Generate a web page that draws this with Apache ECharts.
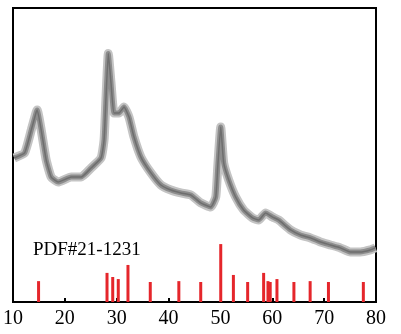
<!DOCTYPE html>
<html><head><meta charset="utf-8">
<script src="https://cdn.jsdelivr.net/npm/echarts@6/dist/echarts.min.js"></script>
<style>html,body{margin:0;padding:0;background:#fff}#c{width:401px;height:334px}</style>
</head><body><div id="c"></div>
<script>
var patternX = [10.25,12.23,13.52,14.48,14.67,15.44,16.40,17.37,18.71,21.21,23.13,25.06,26.98,27.56,27.94,28.38,28.90,29.48,30.44,31.40,32.37,33.33,34.67,36.60,38.52,40.44,42.37,44.29,46.21,48.13,49.10,49.48,50.06,50.63,51.60,52.94,54.48,56.21,57.37,58.71,60.06,61.21,63.52,65.44,67.37,69.29,71.21,73.13,75.06,76.98,78.90,79.90];
var patternY = [49.0,50.7,58.5,64.6,65.3,58.5,48.3,42.5,40.8,42.5,42.5,45.6,49.0,55.1,69.7,84.5,74.5,64.3,64.3,66.3,62.9,56.1,49.3,43.9,39.8,38.1,37.1,36.4,33.7,32.3,35.7,45.9,59.5,47.3,41.5,35.7,31.3,28.6,27.9,30.3,28.9,27.9,24.5,22.8,21.8,20.4,19.4,18.4,17.0,17.0,17.7,18.4];
var refPos = [14.93,28.13,29.23,30.30,32.17,36.47,41.98,46.20,50.06,52.50,55.25,58.33,59.17,59.60,60.90,64.17,67.30,70.83,77.56];
var refInt = [7.1,9.9,8.5,7.8,12.6,6.8,7.1,6.8,19.7,9.2,6.8,9.9,7.1,6.8,7.8,6.8,7.1,6.8,6.8];
var xTicks = [10,20,30,40,50,60,70,80];
var refLabel = 'PDF#21-1231';

var pattern = patternX.map(function(x,i){return [x,patternY[i]];});
var refs = refPos.map(function(x,i){return [x,refInt[i]];});
var chart = echarts.init(document.getElementById('c'));
chart.setOption({
  animation:false,
  grid:{left:12,right:25,top:8,bottom:32,show:true,borderColor:'#000',borderWidth:2,backgroundColor:'#fff'},
  xAxis:{type:'value',min:xTicks[0],max:xTicks[xTicks.length-1],interval:10,
    axisLine:{show:true,lineStyle:{color:'#000',width:2}},
    axisTick:{show:true,inside:true,length:4,lineStyle:{color:'#000',width:2}},
    axisLabel:{color:'#000',fontFamily:'Liberation Serif',fontSize:20,margin:7},
    splitLine:{show:false}},
  yAxis:{type:'value',min:0,max:100,show:false,splitLine:{show:false}},
  graphic:[{type:'text',left:33,top:241,style:{text:refLabel,fontFamily:'Liberation Serif',fontSize:19,fill:'#000'}}],
  series:[
    {type:'line',data:pattern,showSymbol:false,smooth:0.15,lineStyle:{color:'#c4c4c4',width:9},z:2},
    {type:'line',data:pattern,showSymbol:false,smooth:0.15,lineStyle:{color:'#8c8c8c',width:5},z:3},
    {type:'line',data:pattern,showSymbol:false,smooth:0.15,lineStyle:{color:'#6e6e6e',width:1.5},z:3},
    {type:'bar',data:refs,barWidth:3,itemStyle:{color:'#e5262b'},z:4}
  ]
});
</script></body></html>
